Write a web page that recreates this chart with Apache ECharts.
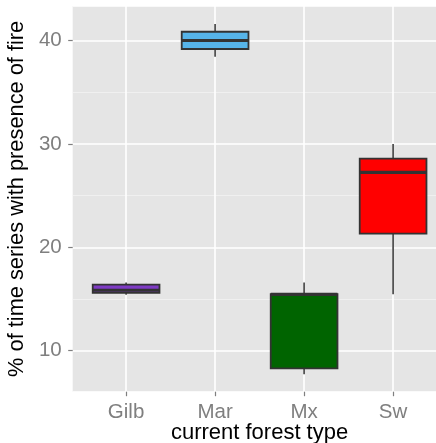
<!DOCTYPE html>
<html>
<head>
<meta charset="utf-8">
<script src="https://cdn.jsdelivr.net/npm/echarts@6/dist/echarts.min.js"></script>
<style>html,body{margin:0;padding:0;background:#fff}#c{width:436px;height:443px}</style>
</head>
<body>
<div id="c"></div>
<script>
var categories = ['Gilb', 'Mar', 'Mx', 'Sw'];
var whiskerLow = [15.41, 38.45, 7.73, 15.45];
var q1Values = [15.60, 39.20, 8.29, 21.32];
var medianValues = [15.85, 40.02, 15.45, 27.26];
var q3Values = [16.40, 40.87, 15.48, 28.58];
var whiskerHigh = [16.61, 41.62, 16.61, 30.00];
var fillColors = ['#7E3BC4', '#56B4E9', '#006400', '#FF0000'];
var yMin = 6.03, yMax = 43.36;

var boxData = categories.map(function (c, i) {
  return [i, whiskerLow[i], q1Values[i], medianValues[i], q3Values[i], whiskerHigh[i]];
});

var chart = echarts.init(document.getElementById('c'), null, {renderer: 'canvas'});
var font = 'Liberation Sans, Arial, sans-serif';

chart.setOption({
  animation: false,
  backgroundColor: '#fff',
  grid: [
    {left: 72.7, right: -10.4, top: 6, bottom: 51.3, show: true, backgroundColor: '#E5E5E5', borderWidth: 0,
      containLabel: false, outerBoundsMode: 'none'},
    {left: 126.1, right: 42.9, top: 6, bottom: 51.3, containLabel: false, outerBoundsMode: 'none'}
  ],
  xAxis: [
    {
      gridIndex: 0, type: 'value', min: 0, max: 1,
      axisLine: {show: false}, axisTick: {show: false}, axisLabel: {show: false}, splitLine: {show: false},
      name: 'current forest type', nameLocation: 'middle', nameGap: 30,
      nameTextStyle: {color: '#000', fontSize: 22, fontFamily: font}
    },
    {
      gridIndex: 1, type: 'category', data: categories, boundaryGap: false,
      axisLine: {show: false},
      axisTick: {show: true, length: 4.5, lineStyle: {color: '#7F7F7F', width: 1.2}},
      axisLabel: {color: '#7F7F7F', fontSize: 20.5, fontFamily: font, margin: 10, interval: 0},
      splitLine: {show: true, lineStyle: {color: '#FFFFFF', width: 1.6}}
    }
  ],
  yAxis: [
    {
      gridIndex: 0, type: 'value', min: yMin, max: yMax, splitNumber: 4,
      axisLine: {show: false},
      axisTick: {show: true, length: 4.5, lineStyle: {color: '#7F7F7F', width: 1.2}},
      axisLabel: {color: '#7F7F7F', fontSize: 20.5, fontFamily: font, margin: 11, showMinLabel: false, showMaxLabel: false},
      splitLine: {show: true, lineStyle: {color: '#FFFFFF', width: 1.6}},
      minorTick: {show: false, splitNumber: 2},
      minorSplitLine: {show: true, lineStyle: {color: '#F2F2F2', width: 0.8}},
      name: '% of time series with presence of fire', nameLocation: 'middle', nameGap: 33,
      nameTextStyle: {color: '#000', fontSize: 21.8, fontFamily: font}
    },
    {
      gridIndex: 1, type: 'value', min: yMin, max: yMax, show: false
    }
  ],
  series: [{
    type: 'custom',
    xAxisIndex: 1, yAxisIndex: 1,
    clip: false,
    data: boxData,
    encode: {x: 0, y: [1, 2, 3, 4, 5]},
    renderItem: function (params, api) {
      var idx = api.value(0);
      var band = api.size([1, 0])[0];
      var half = band * 0.75 / 2;
      var pLow = api.coord([idx, api.value(1)]);
      var pQ1 = api.coord([idx, api.value(2)]);
      var pMed = api.coord([idx, api.value(3)]);
      var pQ3 = api.coord([idx, api.value(4)]);
      var pHigh = api.coord([idx, api.value(5)]);
      var x = pQ1[0];
      var stroke = '#333333';
      return {
        type: 'group',
        children: [
          {type: 'line', shape: {x1: x, y1: pQ3[1], x2: x, y2: pHigh[1]}, style: {stroke: '#4A4A4A', lineWidth: 1.7}},
          {type: 'line', shape: {x1: x, y1: pQ1[1], x2: x, y2: pLow[1]}, style: {stroke: '#4A4A4A', lineWidth: 1.7}},
          {type: 'rect', shape: {x: x - half, y: pQ3[1], width: half * 2, height: pQ1[1] - pQ3[1]},
            style: {fill: fillColors[idx], stroke: stroke, lineWidth: 1.8}},
          {type: 'line', shape: {x1: x - half, y1: pMed[1], x2: x + half, y2: pMed[1]}, style: {stroke: stroke, lineWidth: 3.2}}
        ]
      };
    }
  }]
});
</script>
</body>
</html>
